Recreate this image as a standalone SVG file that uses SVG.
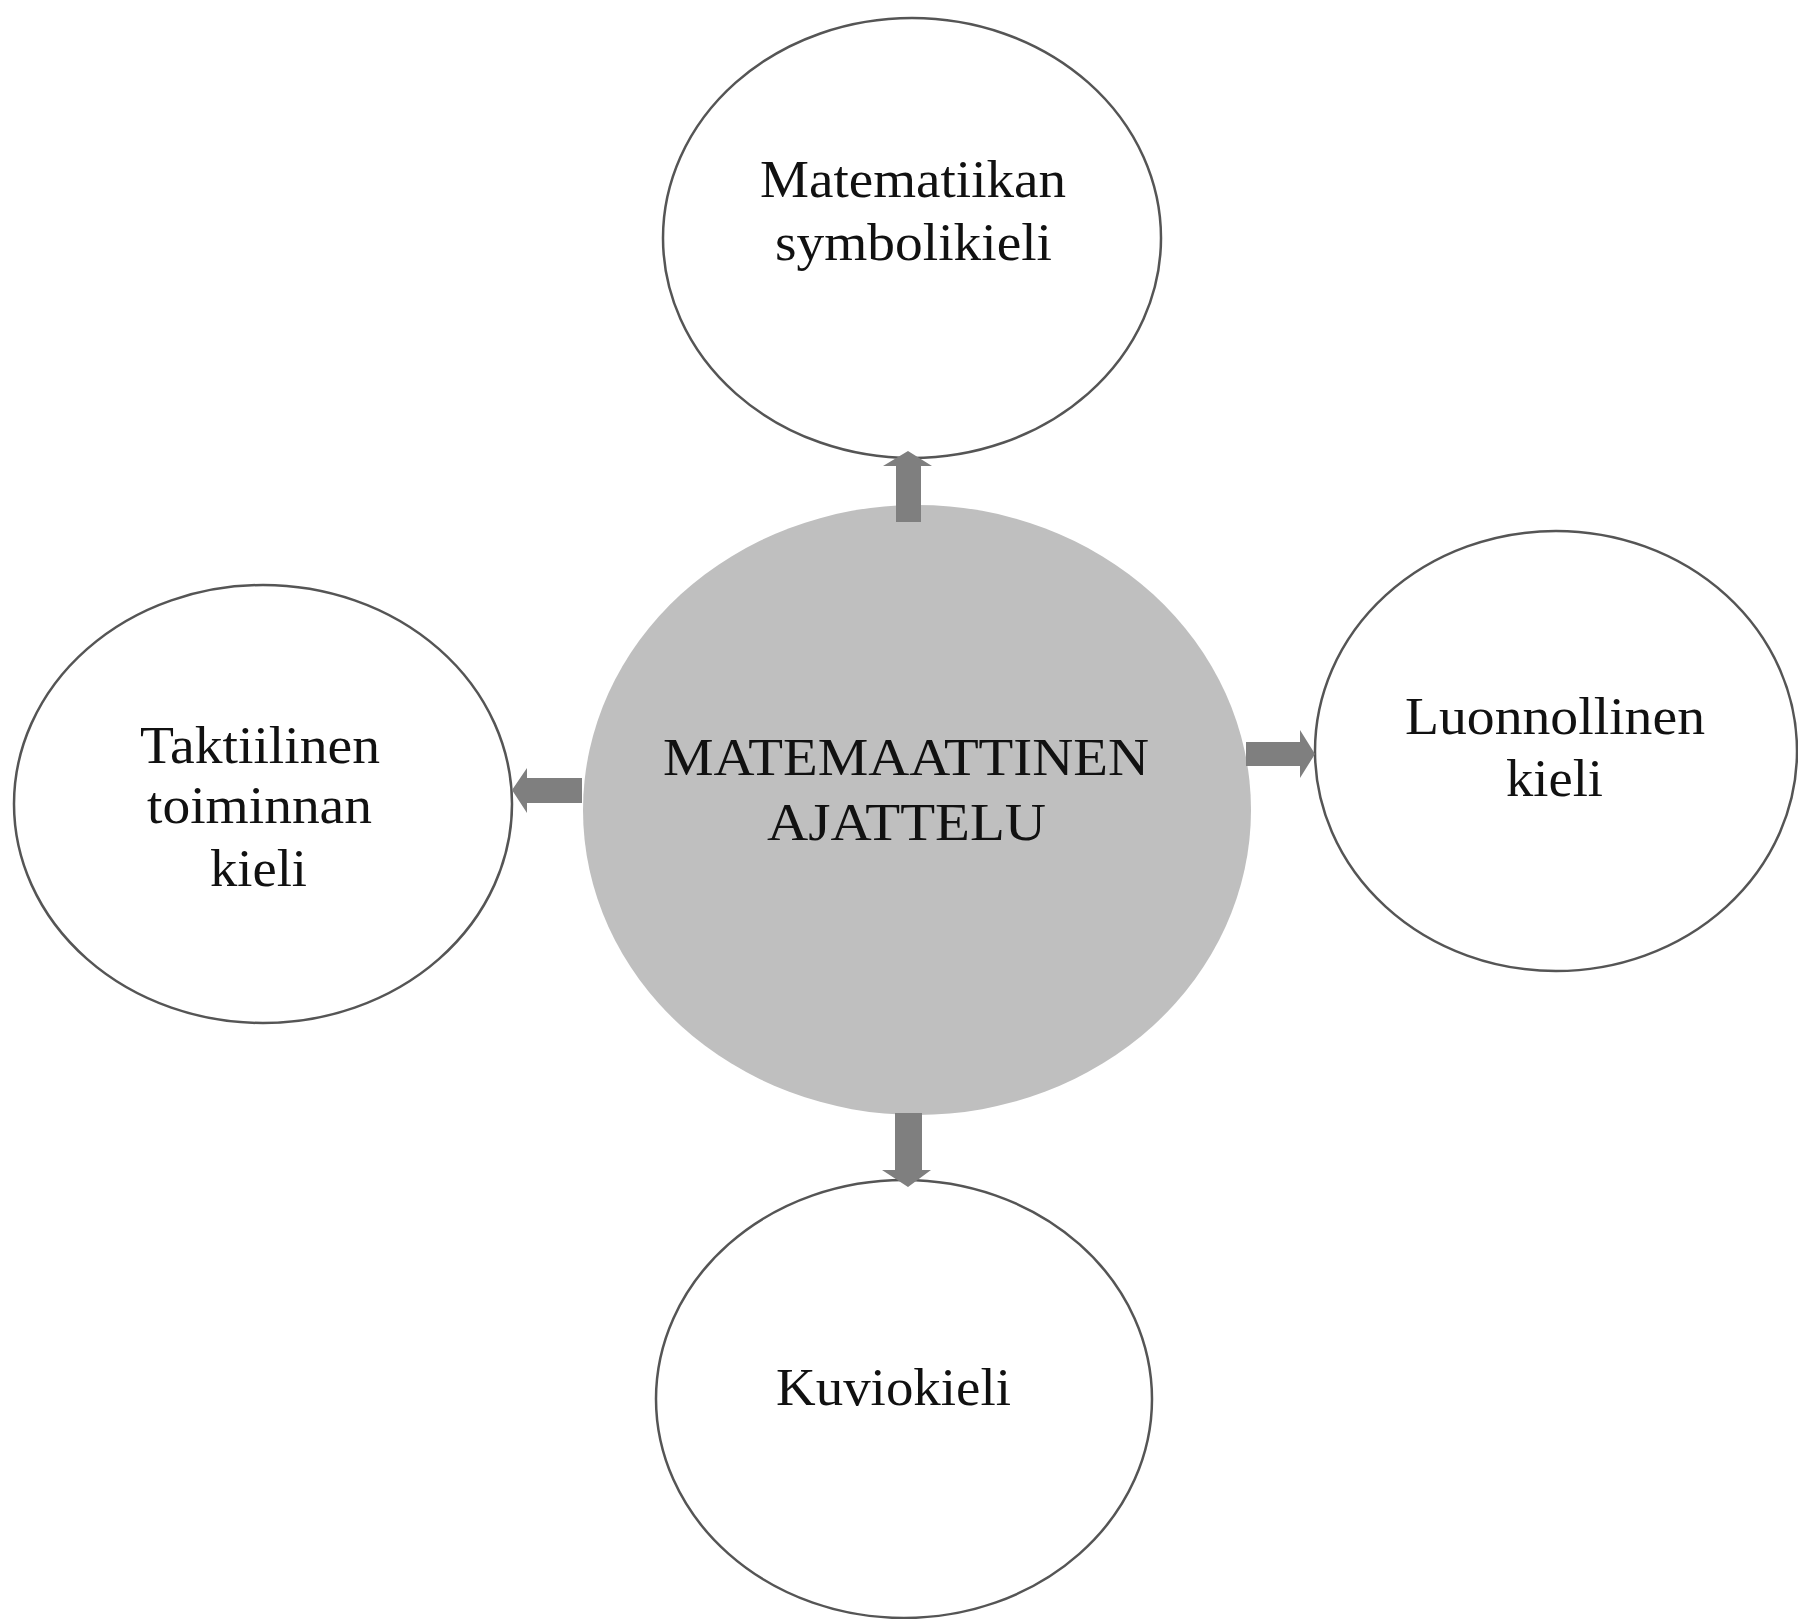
<svg xmlns="http://www.w3.org/2000/svg" width="1798" height="1619" viewBox="0 0 1798 1619">
<style>
.node{fill:#ffffff;stroke:#555555;stroke-width:2.5}
.center{fill:#bfbfbf;stroke:none}
.lbl{font-family:"Liberation Serif","Times New Roman",serif;font-size:53px;fill:#111111;text-anchor:start}
.arrow{fill:#7f7f7f;stroke:none}
</style>
<rect width="1798" height="1619" fill="#ffffff"/>
<g id="node-top">
<ellipse class="node" cx="912" cy="238" rx="249" ry="220"/>
<text class="lbl" x="760" y="197" textLength="306" lengthAdjust="spacingAndGlyphs">Matematiikan</text>
<text class="lbl" x="775" y="260" textLength="277" lengthAdjust="spacingAndGlyphs">symbolikieli</text>
</g>
<g id="node-left">
<ellipse class="node" cx="263" cy="804" rx="249" ry="219"/>
<text class="lbl" x="140" y="763" textLength="240" lengthAdjust="spacingAndGlyphs">Taktiilinen</text>
<text class="lbl" x="147" y="823" textLength="225" lengthAdjust="spacingAndGlyphs">toiminnan</text>
<text class="lbl" x="210" y="886" textLength="97" lengthAdjust="spacingAndGlyphs">kieli</text>
</g>
<g id="node-right">
<ellipse class="node" cx="1556" cy="751" rx="241" ry="220"/>
<text class="lbl" x="1405" y="734" textLength="300" lengthAdjust="spacingAndGlyphs">Luonnollinen</text>
<text class="lbl" x="1506" y="796" textLength="97" lengthAdjust="spacingAndGlyphs">kieli</text>
</g>
<g id="node-bottom">
<ellipse class="node" cx="904" cy="1399" rx="248" ry="219"/>
<text class="lbl" x="776" y="1405" textLength="235" lengthAdjust="spacingAndGlyphs">Kuviokieli</text>
</g>
<g id="node-center">
<ellipse class="center" cx="917" cy="810" rx="334" ry="305"/>
<text class="lbl" x="663" y="775" textLength="486" lengthAdjust="spacingAndGlyphs">MATEMAATTINEN</text>
<text class="lbl" x="767" y="840" textLength="279" lengthAdjust="spacingAndGlyphs">AJATTELU</text>
</g>
<g id="connectors">
<polygon class="arrow" points="896,522 896,466 883,466 908,451 932,466 921,466 921,522"/>
<polygon class="arrow" points="1246,742 1300,742 1300,730 1315,754 1300,778 1300,766 1246,766"/>
<polygon class="arrow" points="582,778 527,778 527,768 512,790 527,813 527,803 582,803"/>
<polygon class="arrow" points="895,1113 895,1170 882,1170 908,1187 931,1170 922,1170 922,1113"/>
</g>
</svg>
